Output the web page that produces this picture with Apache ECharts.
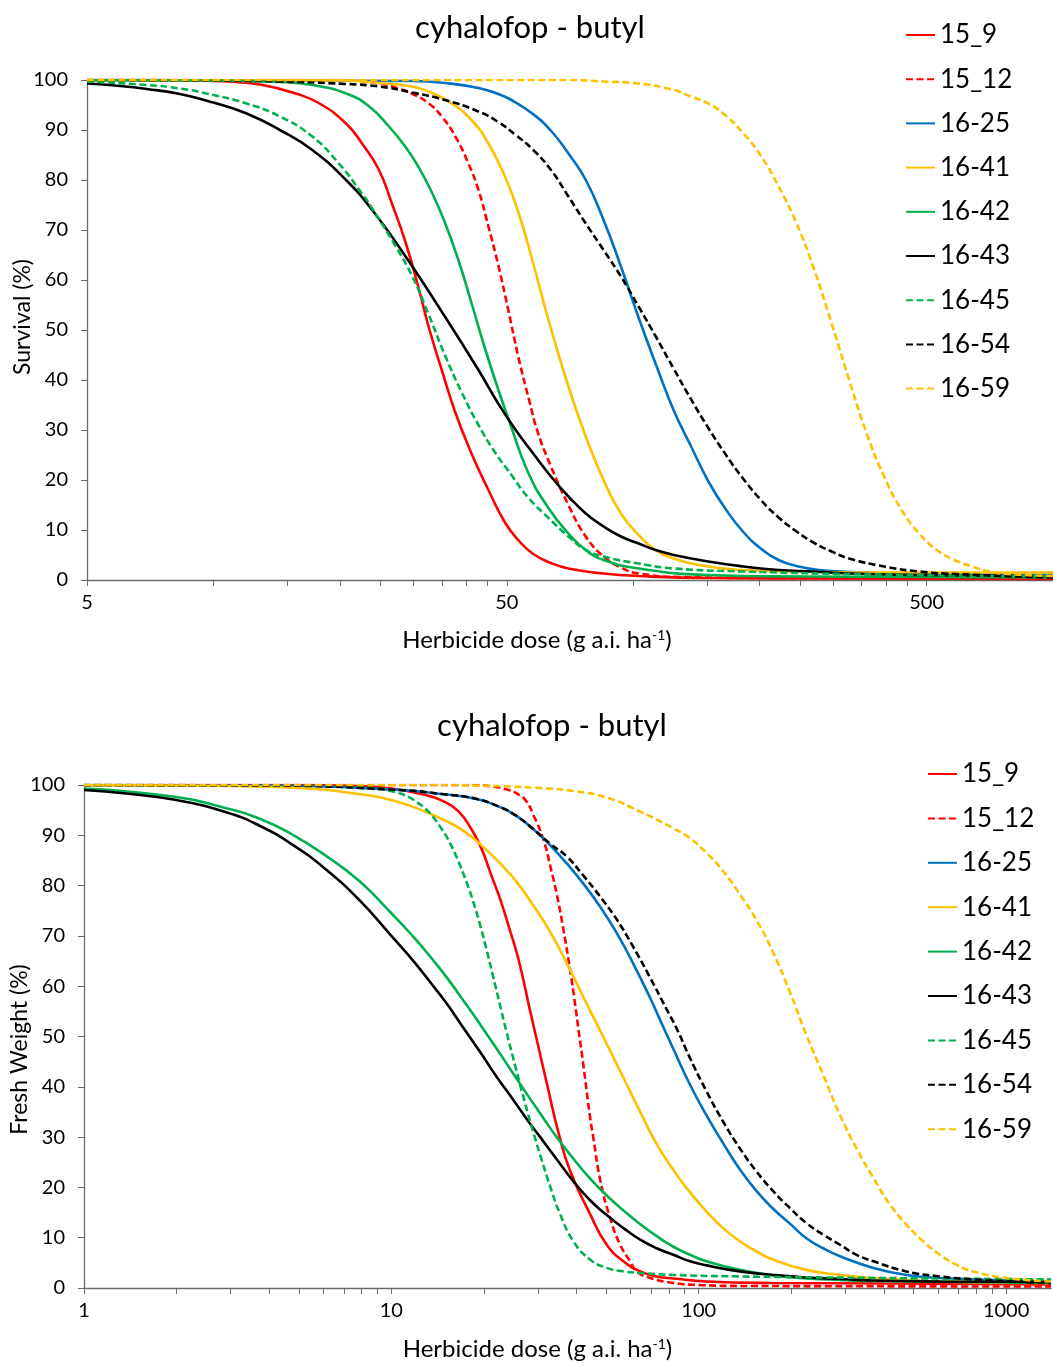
<!DOCTYPE html>
<html><head><meta charset="utf-8">
<script src="https://cdn.jsdelivr.net/npm/echarts@6/dist/echarts.min.js"></script>
<style>html,body{margin:0;padding:0;background:#fff;}#c1,#c2{width:1053px;height:683px;}</style>
</head><body>
<div id="c1"></div><div id="c2"></div>
<script>
// ---------- shared series info ----------
const seriesNames  = ['15_9','15_12','16-25','16-41','16-42','16-43','16-45','16-54','16-59'];
const seriesColors = ['#FF0000','#FF0000','#0070C0','#FFC000','#00B050','#000000','#00B050','#000000','#FFC000'];
const seriesDashed = [false,true,false,false,false,false,true,true,true];

// ---------- top panel: Survival (%) — [dose g a.i./ha, value] pairs ----------
const survivalTitle = 'cyhalofop - butyl';
const surv_15_9  = [[5,100],[8,100],[10.9,99.7],[13.1,99],[15.7,97.3],[17.9,95.3],[20.7,91.3],[22.6,87.3],[24.8,82],[26.7,75],[28.7,67.5],[30.8,58.5],[32.6,50.5],[35,42],[37.7,33.5],[41.2,25.3],[45.2,18],[49.5,11.5],[53.5,7.8],[57.8,5.2],[63.7,3.4],[70.1,2.3],[85,1.3],[103,0.8],[151,0.4],[300,0.3],[1000,0.2]];
const surv_15_12 = [[5,100],[20,100],[24.8,99.3],[27.6,98.3],[29.7,97.3],[32.6,95.3],[35,92.7],[37.7,88.7],[40.5,83.3],[42.8,78],[45.2,70.7],[47.7,63],[50.4,54],[53.3,44.5],[56.5,36],[59.3,29.5],[63.5,23],[70.1,15],[77.1,8.7],[85,4.7],[93.5,2.5],[103,1.3],[130,0.6],[200,0.4],[1000,0.3]];
const surv_16_25 = [[5,100],[30,99.8],[35.6,99.4],[42.8,98.4],[47.7,97.2],[51.3,96],[57.8,93.15],[63.7,89.85],[70.1,85.3],[77.1,80],[85,72],[93.5,62.7],[103,52.5],[113.4,43],[124.8,34],[137.4,26.7],[151.3,19.6],[166.6,14],[183.4,9.5],[202,6.2],[222,4],[245,2.8],[277,2],[350,1.5],[500,1.2],[1000,1]];
const surv_16_41 = [[5,100],[20,99.9],[24.8,99.4],[29.7,98.7],[33.2,97.4],[37,95.3],[41.2,92],[45.2,87.3],[49.5,80.7],[53.3,73.5],[57.5,64],[62.7,52.3],[70.1,38.7],[77.1,28.7],[85,20],[93.5,13.3],[103,9],[113,6],[125,4.3],[151,2.7],[183,2],[250,1.7],[330,1.5],[1000,1.5]];
const surv_16_42 = [[5,100],[10,99.9],[14.4,99.6],[17.2,99],[20.7,97.3],[23.5,94.7],[26.2,90.7],[28.7,86.6],[30.8,82.6],[33.2,77.4],[35.6,71.5],[38.3,64.1],[41.2,55.4],[44.4,46.2],[47.7,38.1],[51,31.1],[56.2,21.5],[62.7,14.5],[70.1,9.3],[77.1,6],[85,4],[103,2.3],[151,1],[250,0.7],[1000,0.5]];
const surv_16_43 = [[5,99.3],[6,98.8],[6.94,98.2],[8.32,97.2],[10,95.5],[12,93.3],[14.4,90],[17.2,86],[20.7,80],[23.9,74],[28.7,64.7],[35.6,52.7],[42.8,42],[47.7,35.3],[52.5,30],[57.8,25.3],[63.7,20.7],[70.1,16.7],[77.1,13.3],[85,10.7],[93.5,8.7],[103,7.3],[113,6],[125,5],[151,3.7],[183,2.7],[222,2],[270,1.7],[327,1.3],[480,1],[1000,0.7]];
const surv_16_45 = [[5,99.7],[6.94,99],[8.32,98.3],[9.62,97.3],[12,95.3],[14.4,92.7],[17.2,88.7],[19.9,83.3],[22.6,77.3],[23.9,74.3],[27.1,66.9],[29.7,60.9],[32.6,53],[35.6,45],[39,37.6],[42.8,31],[46.8,25.6],[51.3,21],[56.2,16.5],[62.7,12.5],[70.1,8.7],[77.1,6],[85,4.7],[103,3.3],[125,2.3],[183,1.7],[327,1.2],[1000,0.7]];
const surv_16_54 = [[5,100],[10,99.9],[14.4,99.7],[20.7,99.2],[24.8,98.7],[29.7,97.5],[35.6,96],[42.8,93.7],[47.7,91.6],[52.5,89],[57.8,86],[63.7,82],[70.1,76.7],[77.1,71.3],[85,66],[93.5,60.7],[103,54.7],[113,48.8],[125,42.2],[137,36.3],[151,30.4],[167,24.8],[183,20.2],[202,15.9],[222,12.5],[245,9.7],[270,7.4],[297,5.7],[327,4.3],[396,2.7],[480,1.7],[582,1.2],[1000,0.5]];
const surv_16_59 = [[5,100],[70,100],[85,99.7],[103,99.3],[125,98],[137,96.7],[151,95.3],[167,92.7],[183,89.3],[202,84.7],[222,78.7],[245,71.3],[270,62],[297,51.3],[327,40],[360,29.3],[396,20.7],[436,14],[480,9.3],[529,6],[582,4],[641,2.7],[706,1.7],[777,1.2],[1000,0.8]];
const survivalXLabels = [5,50,500];
const survivalXTicks  = [5,10,15,20,25,30,35,40,45,50,100,150,200,250,300,350,400,450,500,1000];

// ---------- bottom panel: Fresh Weight (%) ----------
const freshTitle = 'cyhalofop - butyl';
const fw_15_9  = [[1,100],[5,100],[7.8,99.8],[10,99.3],[12.9,98],[14.5,97],[16.5,94.8],[18.3,91],[19.6,87.5],[21.3,81.5],[22.6,77.3],[24.2,71.5],[26,65],[28.3,55],[30,48.3],[32.1,40.5],[35,30.8],[38.2,23.2],[44.4,14.6],[50.2,8.6],[56.9,5.3],[64.5,3.3],[73,2.3],[82.7,1.9],[106,1.3],[175,1],[400,0.9],[1400,0.7]];
const fw_15_12 = [[1,100],[18,100],[21.2,99.7],[24.1,99],[25.6,98.3],[27.3,97],[29,94],[31.3,89],[32.9,83.8],[34.6,78],[36.3,71.2],[38.2,63],[39.6,56.5],[40.8,50.5],[42,45],[44.3,34],[45.5,29.5],[47.8,21.5],[51.5,13.9],[55.5,8.6],[59.8,5.3],[62.9,3.3],[69.5,2],[82.7,1],[100,0.6],[150,0.4],[1400,0.3]];
const fw_16_25 = [[1,100],[4,99.9],[10.7,99],[14.6,98.2],[18.7,97.3],[22.6,95.6],[25.6,93.8],[29,91.2],[32.9,88],[37.2,84.4],[42,80.5],[47.8,75.8],[54.2,70.5],[61.1,64.6],[69.2,57.9],[74.6,53.5],[82.7,47.5],[93.7,40.4],[106,34.3],[120,28.8],[136,23.6],[154,19.3],[175,15.7],[198,12.8],[224,9.9],[254,7.9],[288,6.3],[370,4],[474,2.6],[609,2],[1400,1.3]];
const fw_16_41 = [[1,100],[2,99.9],[5,99.4],[8.3,98],[10,97],[12.1,95.4],[15.6,92.4],[17.6,90.4],[19.9,87.7],[22.6,84.4],[25.6,80.7],[29,76],[32.5,71.3],[37.2,64.6],[42,58],[46.6,52.5],[50.2,48.5],[56.9,41.8],[64.5,35],[73,28.6],[82.7,23.5],[93.7,19],[106,15.2],[120,11.9],[136,9.3],[154,7.3],[175,5.6],[224,3.6],[288,2.6],[370,2],[609,1.3],[1400,1]];
const fw_16_42 = [[1,99.3],[2,97.6],[2.9,95.4],[3.7,93.4],[4.75,90.2],[6.1,86],[7.9,80.8],[10,74.5],[11.8,69.8],[13.7,65.1],[15.2,61.6],[17.6,56.2],[19.7,51.9],[22,47.6],[25,42.5],[28,38],[30.5,34.7],[32.1,32.7],[34.6,29.9],[39.1,25.7],[44.4,21.7],[50.2,18.4],[56.9,15.4],[64.5,12.7],[73,10.3],[82.7,8.2],[93.7,6.6],[106,5.3],[136,3.6],[175,2.5],[224,1.9],[288,1.6],[370,1.4],[1400,1]];
const fw_16_43 = [[1,99],[1.37,98.3],[2,97],[2.9,94.6],[3.7,92],[4.75,88.2],[6.1,83.3],[7.9,77],[10,70],[11.8,65],[13.7,60],[15.2,56.4],[16.9,52.3],[19.5,46.8],[22,42],[25,37.3],[28,33],[30.5,30],[34.6,25.5],[39.1,21.2],[44.4,17.4],[50.2,14.5],[56.9,11.9],[64.5,9.6],[73,7.9],[82.7,6.6],[93.7,5.3],[106,4.5],[136,3.3],[175,2.6],[224,2.1],[288,1.8],[370,1.5],[609,1.3],[1400,1.2]];
const fw_16_45 = [[1,100],[6.9,99.8],[8.9,99.3],[10.4,98.5],[11.4,97.6],[12.1,96.6],[12.9,95.3],[13.7,93.6],[14.6,91.2],[15.2,89.5],[16.4,85.3],[17.6,80.5],[18.6,76.2],[19.5,71.9],[20.3,67.8],[21.5,61.6],[22.6,56.1],[23.7,50.9],[25.3,44.1],[27.1,37.2],[29.2,30.2],[30.5,26.4],[32.9,20.1],[35.4,14.7],[39.1,9.3],[44.4,5.6],[50.2,4],[56.9,3.3],[64.5,3],[82.7,2.6],[136,2.3],[370,2],[1400,1.7]];
const fw_16_54 = [[1,100],[4,99.9],[10.7,99],[14.6,98.2],[18.7,97.3],[22.6,95.6],[25.6,93.8],[29,91.2],[32.9,88.3],[37.2,85.8],[42,82.1],[47.8,77.8],[54.2,73.2],[61.1,67.9],[69.2,61.9],[78.5,55.5],[84.9,51.5],[93.7,45.7],[106,39.1],[120,33.1],[136,27.8],[154,23.2],[175,19.2],[198,15.9],[224,12.9],[254,10.6],[288,8.6],[326,6.6],[370,5.3],[474,3.3],[609,2.3],[781,1.7],[1400,1]];
const fw_16_59 = [[1,100],[12,100],[18.7,99.9],[30.5,99.4],[39.1,98.8],[50.2,97.5],[64.5,94.7],[82.7,91.4],[93.7,89.4],[106,86.5],[120,82.9],[136,78.3],[154,73.2],[175,66.6],[198,58.8],[224,50.3],[254,42.4],[288,34.4],[326,27.8],[370,21.9],[419,16.6],[474,12.6],[537,9.3],[609,6.6],[690,4.6],[781,3.3],[1000,2],[1400,1.3]];
const freshXLabels = [1,10,100,1000];
const freshXTicks  = [1,2,3,4,5,6,7,8,9,10,20,30,40,50,60,70,80,90,100,200,300,400,500,600,700,800,900,1000];

const FONT = 'Lato';
const AXIS_COLOR = '#6b6b6b';

function buildOption(cfg) {
  const series = seriesNames.map((name, i) => ({
    type: 'line',
    name: name,
    data: cfg.values[i].map(p => [Math.log10(p[0]), p[1]]),
    symbol: 'none',
    showSymbol: false,
    smooth: 0.5,
    clip: true,
    lineStyle: { color: seriesColors[i], width: 2.6, type: seriesDashed[i] ? [7, 3.5] : 'solid' },
    itemStyle: { color: seriesColors[i] },
    emphasis: { disabled: true },
    z: 2 + i
  }));
  return {
    animation: false,
    backgroundColor: '#ffffff',
    textStyle: { fontFamily: FONT },
    graphic: [{
      type: 'text', x: cfg.titleX, y: cfg.titleY,
      style: { text: cfg.title, font: '31px ' + FONT, fill: '#000', align: 'center', verticalAlign: 'middle', textAlign: 'center', textVerticalAlign: 'middle' }
    }],
    legend: {
      orient: 'vertical', left: cfg.legendLeft, top: cfg.legendTop, padding: 0,
      itemWidth: 29, itemHeight: 12, itemGap: cfg.legendGap,
      selectedMode: false, data: seriesNames,
      itemStyle: { opacity: 0 },
      textStyle: { fontSize: 26, fontFamily: FONT, color: '#000', lineHeight: 30 }
    },
    grid: { left: cfg.gridLeft, top: cfg.gridTop, width: cfg.gridWidth, height: cfg.gridHeight, containLabel: false },
    xAxis: {
      type: 'value',
      min: Math.log10(cfg.xLabels[0]), max: cfg.xMax,
      splitLine: { show: false },
      axisLine: { show: true, onZero: false, lineStyle: { color: AXIS_COLOR, width: 1.3 } },
      axisTick: { show: true, length: 6, customValues: cfg.xTicks.map(Math.log10), lineStyle: { color: AXIS_COLOR, width: 1 } },
      axisLabel: { customValues: cfg.xLabels.map(Math.log10), formatter: v => String(Math.round(Math.pow(10, v))), fontSize: 20, fontFamily: FONT, color: '#000', margin: 13 },
      name: 'Herbicide dose (g a.i. ha{sup|-1})',
      nameLocation: 'middle', nameGap: cfg.xNameGap, nameMoveOverlap: false,
      nameTextStyle: { fontSize: 24, fontFamily: FONT, color: '#000', padding: cfg.xNamePad, rich: { sup: { fontSize: 14, fontFamily: FONT, color: '#000', verticalAlign: 'top', lineHeight: 16 } } }
    },
    yAxis: {
      type: 'value', min: 0, max: 100, interval: 10,
      splitLine: { show: false },
      axisLine: { show: true, lineStyle: { color: AXIS_COLOR, width: 1.3 } },
      axisTick: { show: true, length: 6, lineStyle: { color: AXIS_COLOR, width: 1 } },
      axisLabel: { fontSize: 20, fontFamily: FONT, color: '#000', margin: 19 },
      name: cfg.yName, nameLocation: 'middle', nameGap: cfg.yNameGap, nameMoveOverlap: false,
      nameTextStyle: { fontSize: 23, fontFamily: FONT, color: '#000', padding: cfg.yNamePad }
    },
    series: series
  };
}

const chartTop = echarts.init(document.getElementById('c1'), null, { renderer: 'canvas' });
chartTop.setOption(buildOption({
  title: survivalTitle, titleX: 530, titleY: 28,
  legendLeft: 905, legendTop: 20, legendGap: 14.2,
  gridLeft: 87, gridTop: 80, gridWidth: 971, gridHeight: 500,
  values: [surv_15_9, surv_15_12, surv_16_25, surv_16_41, surv_16_42, surv_16_43, surv_16_45, surv_16_54, surv_16_59],
  xLabels: survivalXLabels, xTicks: survivalXTicks, xMax: 3,
  xNameGap: 48, xNamePad: [0, 66, 0, 0],
  yName: 'Survival (%)', yNameGap: 53, yNamePad: [0, 0, 0, 26]
}));

const chartBottom = echarts.init(document.getElementById('c2'), null, { renderer: 'canvas' });
chartBottom.setOption(buildOption({
  title: freshTitle, titleX: 552, titleY: 43,
  legendLeft: 927, legendTop: 76, legendGap: 14.4,
  gridLeft: 83, gridTop: 102, gridWidth: 968, gridHeight: 505,
  values: [fw_15_9, fw_15_12, fw_16_25, fw_16_41, fw_16_42, fw_16_43, fw_16_45, fw_16_54, fw_16_59],
  xLabels: freshXLabels, xTicks: freshXTicks, xMax: Math.log10(1400),
  xNameGap: 49, xNamePad: [0, 60, 0, 0],
  yName: 'Fresh Weight (%)', yNameGap: 53, yNamePad: [0, 26, 0, 0]
}));
</script>
</body></html>
